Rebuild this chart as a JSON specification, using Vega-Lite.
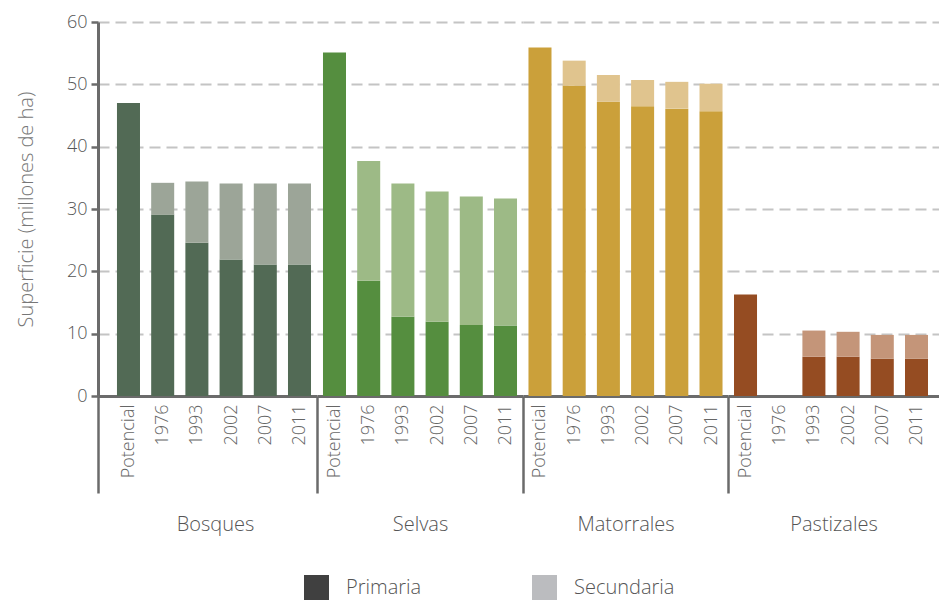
{
  "$schema": "https://vega.github.io/schema/vega-lite/v6.json",
  "padding": {"left": 16, "top": 13, "right": 0, "bottom": 0},
  "background": "white",
  "config": {
    "font": "Open Sans",
    "view": {"stroke": null},
    "concat": {"spacing": 0},
    "axisX": {
      "labelAngle": -90,
      "labelFontSize": 18,
      "labelFontWeight": 300,
      "labelColor": "#666666",
      "labelPadding": -89,
      "bandPosition": 1,
      "tickExtra": true,
      "tickSize": 97,
      "tickWidth": 2.5,
      "tickColor": "#6b6b6b",
      "domainColor": "#6b6b6b",
      "domainWidth": 3,
      "titleFontSize": 20,
      "titleFontWeight": 300,
      "titleColor": "#555555",
      "titlePadding": 20,
      "grid": false
    },
    "axisY": {
      "gridColor": "#c4c4c4",
      "gridDash": [11, 6],
      "gridWidth": 2,
      "labelFontSize": 18,
      "labelFontWeight": 300,
      "labelColor": "#555555",
      "labelPadding": 4,
      "tickSize": 7,
      "tickWidth": 2.5,
      "tickColor": "#6b6b6b",
      "domainColor": "#6b6b6b",
      "domainWidth": 3,
      "titleFontSize": 20,
      "titleFontWeight": 300,
      "titleColor": "#777777",
      "titlePadding": 30
    }
  },
  "data": {"values": [
    {"grupo": "Bosques", "periodo": "Potencial", "tipo": "Primaria", "serie": "Bosques Primaria", "valor": 47.0},
    {"grupo": "Bosques", "periodo": "1976", "tipo": "Primaria", "serie": "Bosques Primaria", "valor": 29.1},
    {"grupo": "Bosques", "periodo": "1976", "tipo": "Secundaria", "serie": "Bosques Secundaria", "valor": 5.1},
    {"grupo": "Bosques", "periodo": "1993", "tipo": "Primaria", "serie": "Bosques Primaria", "valor": 24.6},
    {"grupo": "Bosques", "periodo": "1993", "tipo": "Secundaria", "serie": "Bosques Secundaria", "valor": 9.8},
    {"grupo": "Bosques", "periodo": "2002", "tipo": "Primaria", "serie": "Bosques Primaria", "valor": 21.9},
    {"grupo": "Bosques", "periodo": "2002", "tipo": "Secundaria", "serie": "Bosques Secundaria", "valor": 12.2},
    {"grupo": "Bosques", "periodo": "2007", "tipo": "Primaria", "serie": "Bosques Primaria", "valor": 21.1},
    {"grupo": "Bosques", "periodo": "2007", "tipo": "Secundaria", "serie": "Bosques Secundaria", "valor": 13.0},
    {"grupo": "Bosques", "periodo": "2011", "tipo": "Primaria", "serie": "Bosques Primaria", "valor": 21.1},
    {"grupo": "Bosques", "periodo": "2011", "tipo": "Secundaria", "serie": "Bosques Secundaria", "valor": 13.0},
    {"grupo": "Selvas", "periodo": "Potencial", "tipo": "Primaria", "serie": "Selvas Primaria", "valor": 55.1},
    {"grupo": "Selvas", "periodo": "1976", "tipo": "Primaria", "serie": "Selvas Primaria", "valor": 18.5},
    {"grupo": "Selvas", "periodo": "1976", "tipo": "Secundaria", "serie": "Selvas Secundaria", "valor": 19.2},
    {"grupo": "Selvas", "periodo": "1993", "tipo": "Primaria", "serie": "Selvas Primaria", "valor": 12.7},
    {"grupo": "Selvas", "periodo": "1993", "tipo": "Secundaria", "serie": "Selvas Secundaria", "valor": 21.4},
    {"grupo": "Selvas", "periodo": "2002", "tipo": "Primaria", "serie": "Selvas Primaria", "valor": 11.9},
    {"grupo": "Selvas", "periodo": "2002", "tipo": "Secundaria", "serie": "Selvas Secundaria", "valor": 20.9},
    {"grupo": "Selvas", "periodo": "2007", "tipo": "Primaria", "serie": "Selvas Primaria", "valor": 11.4},
    {"grupo": "Selvas", "periodo": "2007", "tipo": "Secundaria", "serie": "Selvas Secundaria", "valor": 20.6},
    {"grupo": "Selvas", "periodo": "2011", "tipo": "Primaria", "serie": "Selvas Primaria", "valor": 11.3},
    {"grupo": "Selvas", "periodo": "2011", "tipo": "Secundaria", "serie": "Selvas Secundaria", "valor": 20.4},
    {"grupo": "Matorrales", "periodo": "Potencial", "tipo": "Primaria", "serie": "Matorrales Primaria", "valor": 55.9},
    {"grupo": "Matorrales", "periodo": "1976", "tipo": "Primaria", "serie": "Matorrales Primaria", "valor": 49.8},
    {"grupo": "Matorrales", "periodo": "1976", "tipo": "Secundaria", "serie": "Matorrales Secundaria", "valor": 4.0},
    {"grupo": "Matorrales", "periodo": "1993", "tipo": "Primaria", "serie": "Matorrales Primaria", "valor": 47.2},
    {"grupo": "Matorrales", "periodo": "1993", "tipo": "Secundaria", "serie": "Matorrales Secundaria", "valor": 4.3},
    {"grupo": "Matorrales", "periodo": "2002", "tipo": "Primaria", "serie": "Matorrales Primaria", "valor": 46.5},
    {"grupo": "Matorrales", "periodo": "2002", "tipo": "Secundaria", "serie": "Matorrales Secundaria", "valor": 4.2},
    {"grupo": "Matorrales", "periodo": "2007", "tipo": "Primaria", "serie": "Matorrales Primaria", "valor": 46.1},
    {"grupo": "Matorrales", "periodo": "2007", "tipo": "Secundaria", "serie": "Matorrales Secundaria", "valor": 4.3},
    {"grupo": "Matorrales", "periodo": "2011", "tipo": "Primaria", "serie": "Matorrales Primaria", "valor": 45.7},
    {"grupo": "Matorrales", "periodo": "2011", "tipo": "Secundaria", "serie": "Matorrales Secundaria", "valor": 4.4},
    {"grupo": "Pastizales", "periodo": "Potencial", "tipo": "Primaria", "serie": "Pastizales Primaria", "valor": 16.3},
    {"grupo": "Pastizales", "periodo": "1993", "tipo": "Primaria", "serie": "Pastizales Primaria", "valor": 6.3},
    {"grupo": "Pastizales", "periodo": "1993", "tipo": "Secundaria", "serie": "Pastizales Secundaria", "valor": 4.2},
    {"grupo": "Pastizales", "periodo": "2002", "tipo": "Primaria", "serie": "Pastizales Primaria", "valor": 6.3},
    {"grupo": "Pastizales", "periodo": "2002", "tipo": "Secundaria", "serie": "Pastizales Secundaria", "valor": 4.0},
    {"grupo": "Pastizales", "periodo": "2007", "tipo": "Primaria", "serie": "Pastizales Primaria", "valor": 6.0},
    {"grupo": "Pastizales", "periodo": "2007", "tipo": "Secundaria", "serie": "Pastizales Secundaria", "valor": 3.8},
    {"grupo": "Pastizales", "periodo": "2011", "tipo": "Primaria", "serie": "Pastizales Primaria", "valor": 6.0},
    {"grupo": "Pastizales", "periodo": "2011", "tipo": "Secundaria", "serie": "Pastizales Secundaria", "valor": 3.8}
  ]},
  "bounds": "flush",
  "resolve": {"scale": {"x": "independent", "y": "shared", "fill": "shared"}},
  "hconcat": [
    {
      "width": 219, "height": 374,
      "transform": [{"filter": "datum.grupo === 'Bosques'"}],
      "mark": {"type": "bar"},
      "encoding": {
        "x": {"field": "periodo", "type": "nominal", "sort": ["Potencial", "1976", "1993", "2002", "2007", "2011"],
              "scale": {"domain": ["Potencial", "1976", "1993", "2002", "2007", "2011"], "paddingInner": 0.327, "paddingOuter": 0.365, "align": 0.76},
              "axis": {"title": "Bosques", "titleX": 117, "tickOffset": -19, "labelOffset": 19,
                       "tickOpacity": {"condition": {"test": "datum.index < 0", "value": 1}, "value": 0}}},
        "y": {"field": "valor", "type": "quantitative", "stack": "zero", "scale": {"domain": [0, 60]},
              "axis": {"title": "Superficie (millones de ha)", "values": [0, 10, 20, 30, 40, 50, 60], "grid": true}},
        "fill": {"field": "serie", "type": "nominal",
                 "scale": {"domain": ["Primaria", "Secundaria", "Bosques Primaria", "Bosques Secundaria", "Selvas Primaria", "Selvas Secundaria", "Matorrales Primaria", "Matorrales Secundaria", "Pastizales Primaria", "Pastizales Secundaria"],
                           "range": ["#404040", "#bbbcbf", "#526a55", "#9ca598", "#558e3f", "#9dba86", "#cba03a", "#e0c48e", "#954c22", "#c49579"]},
                 "legend": {"values": ["Primaria", "Secundaria"], "orient": "none", "legendX": 206, "legendY": 553, "direction": "horizontal", "title": null,
                            "symbolType": "square", "symbolSize": 625, "symbolStrokeWidth": 0, "symbolOpacity": 1,
                            "labelFontSize": 20, "labelFontWeight": 300, "labelColor": "#555555", "labelOffset": 17,
                            "columnPadding": 110}},
        "order": {"field": "tipo", "sort": "ascending"}
      }
    },
    {
      "width": 206, "height": 374,
      "transform": [{"filter": "datum.grupo === 'Selvas'"}],
      "mark": {"type": "bar"},
      "encoding": {
        "x": {"field": "periodo", "type": "nominal", "sort": ["Potencial", "1976", "1993", "2002", "2007", "2011"],
              "scale": {"domain": ["Potencial", "1976", "1993", "2002", "2007", "2011"], "paddingInner": 0.327, "paddingOuter": 0.175},
              "axis": {"title": "Selvas", "tickOffset": -6, "labelOffset": 6,
                       "tickOpacity": {"condition": {"test": "datum.index < 0", "value": 1}, "value": 0}}},
        "y": {"field": "valor", "type": "quantitative", "stack": "zero", "scale": {"domain": [0, 60]},
              "axis": {"title": null, "values": [0, 10, 20, 30, 40, 50, 60], "grid": true, "labels": false, "ticks": false, "domain": false}},
        "fill": {"field": "serie", "type": "nominal"},
        "order": {"field": "tipo", "sort": "ascending"}
      }
    },
    {
      "width": 205, "height": 374,
      "transform": [{"filter": "datum.grupo === 'Matorrales'"}],
      "mark": {"type": "bar"},
      "encoding": {
        "x": {"field": "periodo", "type": "nominal", "sort": ["Potencial", "1976", "1993", "2002", "2007", "2011"],
              "scale": {"domain": ["Potencial", "1976", "1993", "2002", "2007", "2011"], "paddingInner": 0.327, "paddingOuter": 0.16},
              "axis": {"title": "Matorrales", "tickOffset": -5.5, "labelOffset": 5.5,
                       "tickOpacity": {"condition": {"test": "datum.index < 0", "value": 1}, "value": 0}}},
        "y": {"field": "valor", "type": "quantitative", "stack": "zero", "scale": {"domain": [0, 60]},
              "axis": {"title": null, "values": [0, 10, 20, 30, 40, 50, 60], "grid": true, "labels": false, "ticks": false, "domain": false}},
        "fill": {"field": "serie", "type": "nominal"},
        "order": {"field": "tipo", "sort": "ascending"}
      }
    },
    {
      "width": 211, "height": 374,
      "transform": [{"filter": "datum.grupo === 'Pastizales'"}],
      "mark": {"type": "bar"},
      "encoding": {
        "x": {"field": "periodo", "type": "nominal", "sort": ["Potencial", "1976", "1993", "2002", "2007", "2011"],
              "scale": {"domain": ["Potencial", "1976", "1993", "2002", "2007", "2011"], "paddingInner": 0.327, "paddingOuter": 0.249, "align": 0.353},
              "axis": {"title": "Pastizales", "tickOffset": -6, "labelOffset": 6,
                       "tickOpacity": {"condition": {"test": "datum.index < 0", "value": 1}, "value": 0}}},
        "y": {"field": "valor", "type": "quantitative", "stack": "zero", "scale": {"domain": [0, 60]},
              "axis": {"title": null, "values": [0, 10, 20, 30, 40, 50, 60], "grid": true, "labels": false, "ticks": false, "domain": false}},
        "fill": {"field": "serie", "type": "nominal"},
        "order": {"field": "tipo", "sort": "ascending"}
      }
    }
  ]
}
